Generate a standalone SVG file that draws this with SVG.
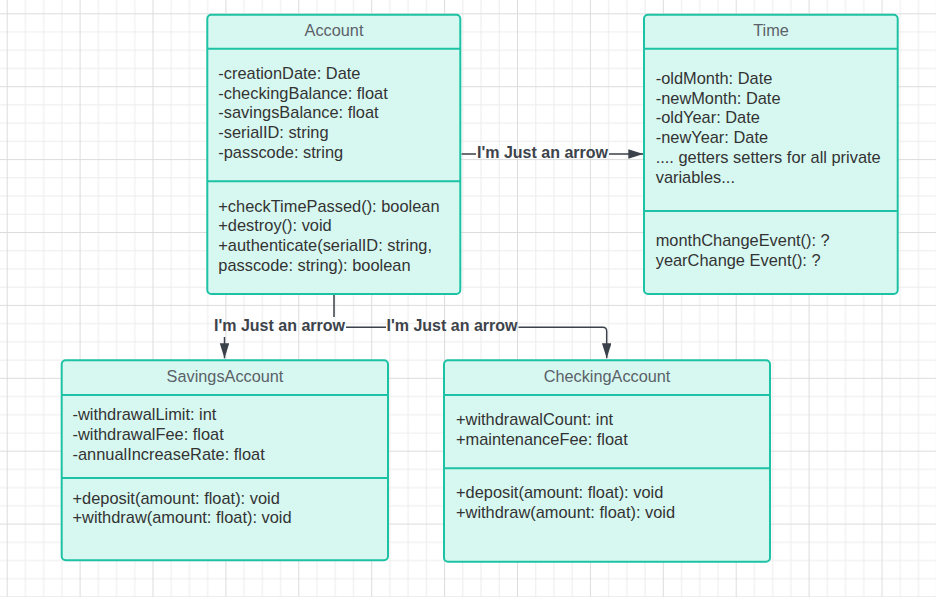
<svg xmlns="http://www.w3.org/2000/svg" width="936" height="597" viewBox="0 0 936 597">
  <defs>
    <!-- background grid: 4 minor cells per major cell -->
    <pattern id="grid" patternUnits="userSpaceOnUse" x="6.7" y="13.3" width="72.9" height="72.9">
      <g stroke="#ececec" stroke-width="1">
        <line x1="18.725" y1="0" x2="18.725" y2="72.9"/>
        <line x1="36.95" y1="0" x2="36.95" y2="72.9"/>
        <line x1="55.175" y1="0" x2="55.175" y2="72.9"/>
        <line x1="0" y1="18.725" x2="72.9" y2="18.725"/>
        <line x1="0" y1="36.95" x2="72.9" y2="36.95"/>
        <line x1="0" y1="55.175" x2="72.9" y2="55.175"/>
      </g>
      <g stroke="#dcdcdc" stroke-width="1">
        <line x1="0.5" y1="0" x2="0.5" y2="72.9"/>
        <line x1="0" y1="0.5" x2="72.9" y2="0.5"/>
      </g>
    </pattern>
    <marker id="arrow" markerUnits="userSpaceOnUse" markerWidth="16" markerHeight="10" refX="15" refY="4.75" orient="auto">
      <path d="M0,0 L15,4.75 L0,9.5 Z" fill="#3a414a"/>
    </marker>
  </defs>
  <style>
    .box { fill: #d7f8f1; stroke: #1dc2a4; stroke-width: 2; }
    .div { stroke: #1dc2a4; stroke-width: 2; }
    .title { font-family: "Liberation Sans", Arial, sans-serif; font-size: 16.3px; fill: #5b6168; text-anchor: middle; }
    .body { font-family: "Liberation Sans", Arial, sans-serif; font-size: 16.4px; fill: #333333; }
    .wire { fill: none; stroke: #3a414a; stroke-width: 1.5; }
    .label { font-family: "Liberation Sans", Arial, sans-serif; font-size: 16px; font-weight: bold; fill: #3d434b; text-anchor: middle; }
  </style>

  <rect width="936" height="597" fill="#ffffff"/>
  <rect width="936" height="597" fill="url(#grid)"/>

  <!-- connectors -->
  <g id="connectors">
    <path class="wire" d="M461.5 154 H476"/>
    <path class="wire" d="M609 154 H643.3" marker-end="url(#arrow)"/>
    <text class="label" x="542.5" y="158">I'm Just an arrow</text>

    <path class="wire" d="M334 295 V317"/>
    <path class="wire" d="M224.5 337 V358.3" marker-end="url(#arrow)"/>
    <path class="wire" d="M346 327.3 H386"/>
    <path class="wire" d="M518.5 327.3 H602.7 Q606.7 327.3 606.7 331.3 V358.3" marker-end="url(#arrow)"/>
    <text class="label" x="279.5" y="331">I'm Just an arrow</text>
    <text class="label" x="452" y="331">I'm Just an arrow</text>
  </g>

  <!-- Account -->
  <g id="account">
    <rect class="box" x="207.3" y="14.7" width="253" height="279.3" rx="4"/>
    <line class="div" x1="207.3" y1="48.7" x2="460.3" y2="48.7"/>
    <line class="div" x1="207.3" y1="181.3" x2="460.3" y2="181.3"/>
    <text class="title" x="334" y="35.5">Account</text>
    <text class="body" x="218.3" y="79">
      <tspan x="218.3">-creationDate: Date</tspan>
      <tspan x="218.3" dy="19.7">-checkingBalance: float</tspan>
      <tspan x="218.3" dy="19.7">-savingsBalance: float</tspan>
      <tspan x="218.3" dy="19.7">-serialID: string</tspan>
      <tspan x="218.3" dy="19.7">-passcode: string</tspan>
    </text>
    <text class="body" x="218.3" y="211.5">
      <tspan x="218.3">+checkTimePassed(): boolean</tspan>
      <tspan x="218.3" dy="19.7">+destroy(): void</tspan>
      <tspan x="218.3" dy="19.7">+authenticate(serialID: string,</tspan>
      <tspan x="218.3" dy="19.7">passcode: string): boolean</tspan>
    </text>
  </g>

  <!-- Time -->
  <g id="time">
    <rect class="box" x="644" y="14.7" width="253.7" height="279.3" rx="4"/>
    <line class="div" x1="644" y1="48.7" x2="897.7" y2="48.7"/>
    <line class="div" x1="644" y1="211" x2="897.7" y2="211"/>
    <text class="title" x="771" y="35.5">Time</text>
    <text class="body" x="655.7" y="84">
      <tspan x="655.7">-oldMonth: Date</tspan>
      <tspan x="655.7" dy="19.7">-newMonth: Date</tspan>
      <tspan x="655.7" dy="19.7">-oldYear: Date</tspan>
      <tspan x="655.7" dy="19.7">-newYear: Date</tspan>
      <tspan x="655.7" dy="19.7">.... getters setters for all private</tspan>
      <tspan x="655.7" dy="19.7">variables...</tspan>
    </text>
    <text class="body" x="655.7" y="246">
      <tspan x="655.7">monthChangeEvent(): ?</tspan>
      <tspan x="655.7" dy="19.7">yearChange Event(): ?</tspan>
    </text>
  </g>

  <!-- SavingsAccount -->
  <g id="savings-account">
    <rect class="box" x="61.7" y="360.3" width="326.3" height="200" rx="4"/>
    <line class="div" x1="61.7" y1="395" x2="388" y2="395"/>
    <line class="div" x1="61.7" y1="478" x2="388" y2="478"/>
    <text class="title" x="225" y="381.5">SavingsAccount</text>
    <text class="body" x="72.5" y="420.3">
      <tspan x="72.5">-withdrawalLimit: int</tspan>
      <tspan x="72.5" dy="19.7">-withdrawalFee: float</tspan>
      <tspan x="72.5" dy="19.7">-annualIncreaseRate: float</tspan>
    </text>
    <text class="body" x="72.5" y="503.5">
      <tspan x="72.5">+deposit(amount: float): void</tspan>
      <tspan x="72.5" dy="19.7">+withdraw(amount: float): void</tspan>
    </text>
  </g>

  <!-- CheckingAccount -->
  <g id="checking-account">
    <rect class="box" x="444" y="360.3" width="326" height="201.4" rx="4"/>
    <line class="div" x1="444" y1="395" x2="770" y2="395"/>
    <line class="div" x1="444" y1="468.3" x2="770" y2="468.3"/>
    <text class="title" x="607" y="381.5">CheckingAccount</text>
    <text class="body" x="456" y="425">
      <tspan x="456">+withdrawalCount: int</tspan>
      <tspan x="456" dy="19.7">+maintenanceFee: float</tspan>
    </text>
    <text class="body" x="456" y="498.3">
      <tspan x="456">+deposit(amount: float): void</tspan>
      <tspan x="456" dy="19.7">+withdraw(amount: float): void</tspan>
    </text>
  </g>
</svg>
